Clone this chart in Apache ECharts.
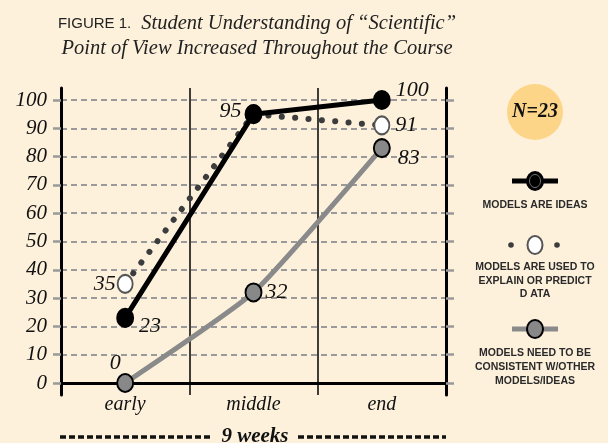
<!DOCTYPE html>
<html>
<head>
<meta charset="utf-8">
<script src="https://cdn.jsdelivr.net/npm/echarts@6/dist/echarts.min.js"></script>
<style>
  html, body { margin: 0; padding: 0; background: #fdf1dc; }
  #chart { width: 608px; height: 443px; }
</style>
</head>
<body>
<div id="chart"></div>
<script>
// data
const categories = ['early', 'middle', 'end']
const ideasValues = [23, 95, 100]
const explainValues = [35, 95, 91]
const consistentValues = [0, 32, 83]
const yMin = 0
const yMax = 100
const yStep = 10

const serif = 'Liberation Serif'
const sans = 'Liberation Sans'
const numFont = { fontFamily: serif, fontStyle: 'italic', fontSize: 22, color: '#111' }

// where each point label sits (style only)
const ideasLabels = [
  { position: 'right', offset: [0, 8] },
  { position: 'left', offset: [2, -3] },
  { position: 'right', offset: [0, -10] }
]
const explainLabels = [
  { position: 'left', offset: [4, 0] },
  { show: false },
  { position: 'right', offset: [0, 0] }
]
const consistentLabels = [
  { position: 'top', offset: [-10, 6] },
  { position: 'right', offset: [-2, 0] },
  { position: 'right', offset: [2, 10] }
]

function withLabels(values, labels) {
  return values.map((v, i) => ({ value: v, label: Object.assign({ show: true }, labels[i]) }))
}

const chart = echarts.init(document.getElementById('chart'))

const option = {
  backgroundColor: '#fdf1dc',
  animation: false,
  title: {
    left: 252,
    top: 6,
    textAlign: 'center',
    text: '{a|FIGURE 1.}  {b|Student Understanding of “Scientific”}\n{b|Point of View Increased Throughout the Course}',
    textStyle: {
      fontWeight: 'normal',
      rich: {
        a: { fontFamily: sans, fontWeight: 'normal', fontSize: 15, color: '#222', lineHeight: 25 },
        b: { fontFamily: serif, fontWeight: 'normal', fontStyle: 'italic', fontSize: 20.5, color: '#222', lineHeight: 25 }
      }
    }
  },
  grid: [
    { left: 61, right: 162, top: 100, bottom: 60 },
    { left: 61, right: 162, top: 88, bottom: 48 }
  ],
  xAxis: [
    {
      type: 'category',
      gridIndex: 0,
      data: categories,
      boundaryGap: true,
      axisLine: { onZero: true, lineStyle: { color: '#000', width: 3 } },
      axisTick: { show: false },
      axisLabel: { margin: 12, fontFamily: serif, fontStyle: 'italic', fontSize: 20, color: '#111' },
      splitLine: { show: false }
    },
    {
      type: 'category',
      gridIndex: 1,
      data: categories,
      boundaryGap: true,
      axisLine: { show: false },
      axisTick: { show: false },
      axisLabel: { show: false },
      splitLine: { show: true, lineStyle: { color: '#000', width: 1.5 } }
    }
  ],
  yAxis: [
    {
      type: 'value',
      gridIndex: 0,
      min: yMin,
      max: yMax,
      interval: yStep,
      axisLine: { show: false },
      axisTick: { show: true, length: 8, lineStyle: { color: '#999', width: 2.5 } },
      axisLabel: { margin: 14, fontFamily: serif, fontStyle: 'italic', fontSize: 21, color: '#111' },
      splitLine: { show: true, lineStyle: { color: '#9a9a9a', width: 2, type: [6, 4] } }
    },
    {
      type: 'value',
      gridIndex: 0,
      position: 'right',
      min: yMin,
      max: yMax,
      interval: yStep,
      axisLine: { show: false },
      axisTick: { show: true, length: 8, lineStyle: { color: '#999', width: 2.5 } },
      axisLabel: { show: false },
      splitLine: { show: false }
    },
    {
      type: 'value',
      gridIndex: 1,
      min: 0,
      max: 1,
      axisLine: { show: true, lineStyle: { color: '#000', width: 3 } },
      axisTick: { show: false },
      axisLabel: { show: false },
      splitLine: { show: false }
    },
    {
      type: 'value',
      gridIndex: 1,
      position: 'right',
      min: 0,
      max: 1,
      axisLine: { show: true, lineStyle: { color: '#000', width: 3 } },
      axisTick: { show: false },
      axisLabel: { show: false },
      splitLine: { show: false }
    }
  ],
  series: [
    {
      name: 'MODELS NEED TO BE CONSISTENT W/OTHER MODELS/IDEAS',
      type: 'line',
      xAxisIndex: 0,
      yAxisIndex: 0,
      data: withLabels(consistentValues, consistentLabels),
      smooth: 0.15,
      symbol: 'circle',
      symbolSize: [16, 18],
      lineStyle: { color: '#8a8a8a', width: 5 },
      itemStyle: { color: '#888', borderColor: '#000', borderWidth: 2 },
      label: numFont,
      z: 3
    },
    {
      name: 'MODELS ARE USED TO EXPLAIN OR PREDICT DATA',
      type: 'line',
      xAxisIndex: 0,
      yAxisIndex: 0,
      data: withLabels(explainValues, explainLabels),
      symbol: 'circle',
      symbolSize: [15, 18],
      lineStyle: { color: '#3c3c3c', width: 6, type: [0.1, 13.3], cap: 'round' },
      itemStyle: { color: '#fff', borderColor: '#555', borderWidth: 2 },
      label: numFont,
      z: 4
    },
    {
      name: 'MODELS ARE IDEAS',
      type: 'line',
      xAxisIndex: 0,
      yAxisIndex: 0,
      data: withLabels(ideasValues, ideasLabels),
      symbol: 'circle',
      symbolSize: [16, 18],
      lineStyle: { color: '#000', width: 5 },
      itemStyle: { color: '#000', borderColor: '#000', borderWidth: 2 },
      label: numFont,
      z: 5
    }
  ],
  graphic: [
    // N=23 badge
    { type: 'circle', shape: { cx: 535, cy: 112, r: 28 }, style: { fill: '#fdd588' } },
    { type: 'text', x: 535, y: 112, style: { text: 'N=23', align: 'center', verticalAlign: 'middle', font: 'italic bold 20px "Liberation Serif"', fill: '#111' } },
    // legend: models are ideas
    { type: 'line', shape: { x1: 512, y1: 181, x2: 558, y2: 181 }, style: { stroke: '#000', lineWidth: 5 } },
    { type: 'ellipse', shape: { cx: 535, cy: 181, rx: 8, ry: 9 }, style: { fill: '#000', stroke: '#000', lineWidth: 2 } },
    { type: 'ellipse', shape: { cx: 535, cy: 181, rx: 5.5, ry: 6.5 }, style: { fill: 'none', stroke: '#777', lineWidth: 1 } },
    { type: 'text', x: 535, y: 205, style: { text: 'MODELS ARE IDEAS', align: 'center', verticalAlign: 'middle', font: 'bold 10.5px "Liberation Sans"', fill: '#2a2a2a' } },
    // legend: explain or predict
    { type: 'circle', shape: { cx: 511, cy: 245, r: 2.8 }, style: { fill: '#3c3c3c' } },
    { type: 'circle', shape: { cx: 557, cy: 245, r: 2.8 }, style: { fill: '#3c3c3c' } },
    { type: 'ellipse', shape: { cx: 535, cy: 245, rx: 7.5, ry: 9 }, style: { fill: '#fff', stroke: '#555', lineWidth: 2 } },
    { type: 'text', x: 535, y: 281, style: { text: 'MODELS ARE USED TO\nEXPLAIN OR PREDICT\nD ATA', align: 'center', verticalAlign: 'middle', lineHeight: 13.5, font: 'bold 10.5px "Liberation Sans"', fill: '#2a2a2a' } },
    // legend: consistent
    { type: 'line', shape: { x1: 512, y1: 329, x2: 558, y2: 329 }, style: { stroke: '#8a8a8a', lineWidth: 5 } },
    { type: 'ellipse', shape: { cx: 535, cy: 329, rx: 8, ry: 9 }, style: { fill: '#888', stroke: '#000', lineWidth: 2 } },
    { type: 'text', x: 535, y: 367, style: { text: 'MODELS NEED TO BE\nCONSISTENT W/OTHER\nMODELS/IDEAS', align: 'center', verticalAlign: 'middle', lineHeight: 14, font: 'bold 10.5px "Liberation Sans"', fill: '#2a2a2a' } },
    // 9 weeks span
    { type: 'line', shape: { x1: 60, y1: 437, x2: 212, y2: 437 }, style: { stroke: '#111', lineWidth: 3.5, lineDash: [6, 3] } },
    { type: 'line', shape: { x1: 298, y1: 437, x2: 446, y2: 437 }, style: { stroke: '#111', lineWidth: 3.5, lineDash: [6, 3] } },
    { type: 'text', x: 255, y: 437, style: { text: '9 weeks', align: 'center', verticalAlign: 'middle', font: 'italic bold 21px "Liberation Serif"', fill: '#111' } }
  ]
}

chart.setOption(option)
</script>
</body>
</html>
